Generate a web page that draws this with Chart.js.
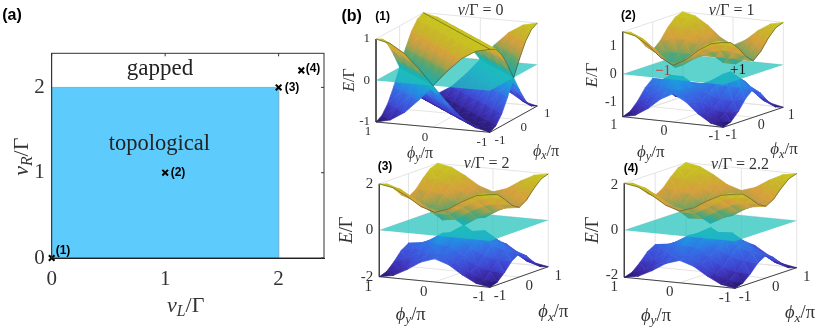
<!DOCTYPE html>
<html>
<head>
<meta charset="utf-8">
<title>Phase diagram and band surfaces</title>
<script src="https://cdn.jsdelivr.net/npm/chart.js@4/dist/chart.umd.js"></script>
<style>
  html, body { margin: 0; padding: 0; background: #fff; width: 822px; height: 329px; overflow: hidden; }
  canvas { position: absolute; }
</style>
</head>
<body>
<canvas id="phase" width="330" height="329" style="left:0;top:0"></canvas>
<canvas id="band-1" width="250" height="175" style="left:330px;top:0"></canvas>
<canvas id="band-2" width="242" height="175" style="left:580px;top:0"></canvas>
<canvas id="band-3" width="250" height="174" style="left:330px;top:155px"></canvas>
<canvas id="band-4" width="242" height="174" style="left:580px;top:155px"></canvas>
<script>
// Phase diagram (a)
const axisTicks = [0, 1, 2];
const topoX = [0, 0, 2, 2];
const topoY = [0, 2, 2, 0];
const markerX = [0, 1, 2, 2.2];
const markerY = [0, 1, 2, 2.2];
const markerNames = ['(1)', '(2)', '(3)', '(4)'];

// Band surfaces (b): upper band E/Gamma, rows phi_y = -1..1, columns phi_x = -1..1
const phiSamples = [-1, -0.75, -0.5, -0.25, 0, 0.25, 0.5, 0.75, 1];
const phiTicks = [-1, 0, 1];
const energy1 = [
  [1, .92, .71, .38, 0, .38, .71, .92, 1],
  [.92, 1, .92, .71, .38, 0, .38, .71, .92],
  [.71, .92, 1, .92, .71, .38, 0, .38, .71],
  [.38, .71, .92, 1, .92, .71, .38, 0, .38],
  [0, .38, .71, .92, 1, .92, .71, .38, 0],
  [.38, 0, .38, .71, .92, 1, .92, .71, .38],
  [.71, .38, 0, .38, .71, .92, 1, .92, .71],
  [.92, .71, .38, 0, .38, .71, .92, 1, .92],
  [1, .92, .71, .38, 0, .38, .71, .92, 1]
];
const energy2 = [
  [1.5, 1.4, 1.12, .74, .5, .74, 1.12, 1.4, 1.5],
  [1.4, 1.4, 1.21, .87, .5, .5, .87, 1.21, 1.4],
  [1.12, 1.21, 1.12, .87, .5, .21, .5, .87, 1.12],
  [.74, .87, .87, .74, .5, .21, .21, .5, .74],
  [.5, .5, .5, .5, .5, .5, .5, .5, .5],
  [.74, .5, .21, .21, .5, .74, .87, .87, .74],
  [1.12, .87, .5, .21, .5, .87, 1.12, 1.21, 1.12],
  [1.4, 1.21, .87, .5, .5, .87, 1.21, 1.4, 1.4],
  [1.5, 1.4, 1.12, .74, .5, .74, 1.12, 1.4, 1.5]
];
const energy3 = [
  [2, 1.89, 1.58, 1.2, 1, 1.2, 1.58, 1.89, 2],
  [1.89, 1.85, 1.6, 1.22, .92, 1, 1.36, 1.71, 1.89],
  [1.58, 1.6, 1.41, 1.07, .71, .66, 1, 1.36, 1.58],
  [1.2, 1.22, 1.07, .77, .38, .29, .66, 1, 1.2],
  [1, .92, .71, .38, 0, .38, .71, .92, 1],
  [1.2, 1, .66, .29, .38, .77, 1.07, 1.22, 1.2],
  [1.58, 1.36, 1, .66, .71, 1.07, 1.41, 1.6, 1.58],
  [1.89, 1.71, 1.36, 1, .92, 1.22, 1.6, 1.85, 1.89],
  [2, 1.89, 1.58, 1.2, 1, 1.2, 1.58, 1.89, 2]
];
const energy4 = [
  [2.1, 1.99, 1.68, 1.3, 1.1, 1.3, 1.68, 1.99, 2.1],
  [1.99, 1.94, 1.69, 1.31, 1.02, 1.1, 1.46, 1.81, 1.99],
  [1.68, 1.69, 1.49, 1.13, .78, .76, 1.1, 1.46, 1.68],
  [1.3, 1.31, 1.13, .81, .43, .39, .76, 1.1, 1.3],
  [1.1, 1.02, .78, .43, .1, .43, .78, 1.02, 1.1],
  [1.3, 1.1, .76, .39, .43, .81, 1.13, 1.31, 1.3],
  [1.68, 1.46, 1.1, .76, .78, 1.13, 1.49, 1.69, 1.68],
  [1.99, 1.81, 1.46, 1.1, 1.02, 1.31, 1.69, 1.94, 1.99],
  [2.1, 1.99, 1.68, 1.3, 1.1, 1.3, 1.68, 1.99, 2.1]
];

const SERIF = '"Liberation Serif", serif';
const SANS = '"Liberation Sans", sans-serif';

// Height colours, roughly parula with the orange band the lighting gives
const colorStops = [
  [-1, [40, 25, 115]], [-0.88, [58, 40, 165]], [-0.7, [62, 70, 210]], [-0.45, [55, 105, 228]],
  [-0.2, [30, 150, 225]], [0, [20, 180, 185]], [0.15, [50, 168, 150]], [0.3, [95, 165, 105]],
  [0.45, [165, 160, 75]], [0.6, [215, 158, 60]], [0.8, [200, 178, 42]], [1, [200, 198, 30]]
];

function heightColor(t) {
  t = Math.max(-1, Math.min(1, t));
  for (let k = 1; k < colorStops.length; k++) {
    if (t <= colorStops[k][0]) {
      const [t0, c0] = colorStops[k - 1];
      const [t1, c1] = colorStops[k];
      const f = (t - t0) / (t1 - t0);
      return 'rgb(' + c0.map((v, n) => Math.round(v + (c1[n] - v) * f)).join(',') + ')';
    }
  }
  return 'rgb(200,198,30)';
}

// Writes a row of [text, style] runs, centred on x,y. style: i italic, r roman, s subscript
function mathText(ctx, runs, x, y, size, angle, color) {
  ctx.save();
  ctx.translate(x, y);
  ctx.rotate(angle || 0);
  ctx.fillStyle = color || '#333';
  ctx.textBaseline = 'middle';
  ctx.textAlign = 'left';
  const fontOf = (style) => style === 'i' ? 'italic ' + size + 'px ' + SERIF
    : style === 's' ? 'italic ' + (size * 0.72) + 'px ' + SERIF
    : size + 'px ' + SERIF;
  let width = 0;
  runs.forEach(([text, style]) => { ctx.font = fontOf(style); width += ctx.measureText(text).width; });
  let left = -width / 2;
  runs.forEach(([text, style]) => {
    ctx.font = fontOf(style);
    ctx.fillText(text, left, style === 's' ? size * 0.26 : 0);
    left += ctx.measureText(text).width;
  });
  ctx.restore();
}

function plainText(ctx, text, x, y, font, color, align) {
  ctx.save();
  ctx.font = font;
  ctx.fillStyle = color || '#000';
  ctx.textAlign = align || 'center';
  ctx.textBaseline = 'middle';
  ctx.fillText(text, x, y);
  ctx.restore();
}

// First chart, the phase diagram
const phaseLabels = {
  id: 'phaseLabels',
  afterDraw(chart) {
    const {ctx, chartArea: a, scales} = chart;
    ctx.save();
    ctx.strokeStyle = '#333';
    ctx.lineWidth = 1;
    ctx.strokeRect(a.left, a.top, a.right - a.left, a.bottom - a.top);
    ctx.beginPath();
    axisTicks.forEach((t) => {
      const px = scales.x.getPixelForValue(t);
      const py = scales.y.getPixelForValue(t);
      ctx.moveTo(px, a.top); ctx.lineTo(px, a.top + 3);
      ctx.moveTo(a.right, py); ctx.lineTo(a.right - 3, py);
    });
    ctx.stroke();
    ctx.restore();
    const nameSpots = [[63, 250.7], [178, 173], [292, 88], [313, 69]];
    markerNames.forEach((name, i) => {
      plainText(ctx, name, nameSpots[i][0], nameSpots[i][1], 'bold 12px ' + SANS);
    });
    plainText(ctx, '(a)', 12, 16, 'bold 16px ' + SANS);
    plainText(ctx, 'gapped', 160, 69, '23px ' + SERIF, '#222');
    plainText(ctx, 'topological', 159.3, 144, '22.5px ' + SERIF, '#222');
    mathText(ctx, [['v', 'i'], ['L', 's'], ['/Γ', 'r']], 185.7, 306, 22);
    mathText(ctx, [['v', 'i'], ['R', 's'], ['/Γ', 'r']], 22, 156.7, 22, -Math.PI / 2);
  }
};

new Chart(document.getElementById('phase'), {
  type: 'scatter',
  data: {
    datasets: [{
      data: topoX.map((x, i) => ({x: x, y: topoY[i]})),
      showLine: true,
      fill: 'shape',
      backgroundColor: '#5ecbfd',
      borderColor: '#6db9dc',
      borderWidth: 1,
      pointRadius: 0,
      order: 2
    }, {
      data: markerX.map((x, i) => ({x: x, y: markerY[i]})),
      pointStyle: 'crossRot',
      pointRadius: 4,
      borderColor: '#000',
      borderWidth: 2,
      clip: false,
      order: 1
    }]
  },
  options: {
    responsive: false,
    animation: false,
    layout: { padding: { left: 21.7, top: 53.3, right: 5.7, bottom: 31 } },
    plugins: { legend: { display: false }, tooltip: { enabled: false } },
    scales: {
      x: {
        type: 'linear', min: 0, max: 2.4,
        afterFit: (s) => { s.height = 40; },
        grid: { display: false, drawTicks: false },
        border: { color: '#111', width: 1 },
        ticks: { stepSize: 1, includeBounds: false, padding: 9, color: '#333', maxRotation: 0, font: { family: SERIF, size: 21 } }
      },
      y: {
        type: 'linear', min: 0, max: 2.4,
        afterFit: (s) => { s.width = 30; },
        grid: { display: false, drawTicks: false },
        border: { color: '#333', width: 1 },
        ticks: { stepSize: 1, includeBounds: false, padding: 7, color: '#333', font: { family: SERIF, size: 21 } }
      }
    }
  },
  plugins: [phaseLabels]
});

function bandChart(p) {
  const project = (phiX, phiY, e) => {
    const u = (phiX + 1) / 2;
    const w = (phiY + 1) / 2;
    return {
      x: p.front[0] + u * (p.right[0] - p.front[0]) + w * (p.left[0] - p.front[0]),
      y: p.front[1] + u * (p.right[1] - p.front[1]) + w * (p.left[1] - p.front[1]) - (e + p.zMax) * p.zUnit
    };
  };
  const line = (points, color, width) => ({
    data: points, showLine: true, fill: false, borderColor: color, borderWidth: width, pointRadius: 0, clip: false
  });
  const faint = '#e4e4e4';
  const axisDark = '#444';
  const datasets = [];

  // back walls and floor grid
  [-p.zMax, 0, p.zMax].forEach((e) => {
    datasets.push(line([project(-1, 1, e), project(1, 1, e), project(1, -1, e)], faint, 1));
  });
  phiTicks.forEach((t) => {
    datasets.push(line([project(t, -1, -p.zMax), project(t, 1, -p.zMax), project(t, 1, p.zMax)], faint, 1));
    datasets.push(line([project(-1, t, -p.zMax), project(1, t, -p.zMax), project(1, t, p.zMax)], faint, 1));
  });
  // the three axes
  datasets.push(line([project(-1, 1, p.zMax), project(-1, 1, -p.zMax), project(-1, -1, -p.zMax), project(1, -1, -p.zMax)], axisDark, 1));

  // one triangle of a grid cell, coloured from its lowest corner to its highest
  const facet = (grid, sign, cells) => {
    const corners = cells.map(([a, b]) => ({
      e: sign * grid[b][a],
      point: project(phiSamples[a], phiSamples[b], sign * grid[b][a])
    }));
    const sorted = corners.slice().sort((m, n) => m.e - n.e);
    const low = sorted[0];
    const high = sorted[sorted.length - 1];
    let shadeFill = null;
    // canvas units equal scale units here, only the box offset differs
    const shade = (context) => {
      if (high.e - low.e < 0.001) return heightColor(low.e / p.zMax);
      if (shadeFill) return shadeFill;
      const g = context.chart.ctx.createLinearGradient(
        low.point.x - p.box.x, low.point.y - p.box.y,
        high.point.x - p.box.x, high.point.y - p.box.y);
      for (let n = 0; n <= 4; n++) {
        g.addColorStop(n / 4, heightColor((low.e + (high.e - low.e) * n / 4) / p.zMax));
      }
      shadeFill = g;
      return g;
    };
    const pts = corners.map((c) => c.point);
    return {
      data: pts.concat([pts[0]]),
      showLine: true,
      fill: 'shape',
      backgroundColor: shade,
      borderColor: shade,
      borderWidth: 0.7,
      pointRadius: 0,
      clip: false
    };
  };
  const surface = (sign) => {
    for (let j = 7; j >= 0; j--) {
      for (let i = 7; i >= 0; i--) {
        datasets.push(facet(p.energy, sign, [[i + 1, j], [i + 1, j + 1], [i, j]]));
        datasets.push(facet(p.energy, sign, [[i, j + 1], [i + 1, j + 1], [i, j]]));
      }
    }
  };

  // painter's order, back corner first. lower band, then plane, then upper band
  surface(-1);
  const plane = [project(-1, 1, 0), project(-1, -1, 0), project(1, -1, 0), project(1, 1, 0)];
  datasets.push({
    data: plane.concat([plane[0]]),
    showLine: true,
    fill: 'shape',
    backgroundColor: 'rgba(32,192,186,0.72)',
    borderColor: 'rgba(32,192,186,0)',
    borderWidth: 0,
    pointRadius: 0,
    clip: false
  });
  surface(1);

  // dark front rim of the upper band
  datasets.push(line(phiSamples.map((t, n) => project(-1, t, p.energy[n][0])), 'rgba(50,50,40,0.6)', 0.8));
  datasets.push(line(phiSamples.map((t, n) => project(t, -1, p.energy[0][n])), 'rgba(50,50,40,0.6)', 0.8));
  if (p.ridge) {
    datasets.push(line(phiSamples.map((t, n) => project(t, t, p.energy[n][n])), 'rgba(50,50,40,0.6)', 0.8));
  }

  const labels = {
    id: 'bandLabels',
    afterDraw(chart) {
      const {ctx, scales} = chart;
      const px = (pt) => [scales.x.getPixelForValue(pt.x), scales.y.getPixelForValue(pt.y)];
      const fontTick = p.tickSize + 'px ' + SERIF;
      p.zTicks.forEach((t) => {
        const [x, y] = px(project(-1, 1, t));
        plainText(ctx, String(t), x - 6, y, fontTick, '#333', 'right');
      });
      phiTicks.forEach((t) => {
        const [ax, ay] = px(project(-1, t, -p.zMax));
        plainText(ctx, String(t), ax + p.yOff[0], ay + p.yOff[1], fontTick, '#333');
        const [bx, by] = px(project(t, -1, -p.zMax));
        plainText(ctx, String(t), bx + p.xOff[0], by + p.xOff[1], fontTick, '#333');
      });
      const X = (v) => v - p.box.x;
      const Y = (v) => v - p.box.y;
      plainText(ctx, p.name, X(p.nameAt[0]), Y(p.nameAt[1]), 'bold 12px ' + SANS);
      mathText(ctx, [['v', 'i'], ['/Γ = ' + p.v, 'r']], X(p.titleAt[0]), Y(p.titleAt[1]), p.titleSize);
      mathText(ctx, [['E', 'i'], ['/Γ', 'r']], X(p.eAt[0]), Y(p.eAt[1]), p.labelSize, -Math.PI / 2);
      mathText(ctx, [['ϕ', 'i'], ['y', 's'], ['/π', 'r']], X(p.phiYAt[0]), Y(p.phiYAt[1]), p.labelSize);
      mathText(ctx, [['ϕ', 'i'], ['x', 's'], ['/π', 'r']], X(p.phiXAt[0]), Y(p.phiXAt[1]), p.labelSize);
      if (p.after) p.after(ctx, X, Y);
    }
  };

  // Chart.js draws the last dataset first, so the list goes in reversed
  return new Chart(document.getElementById(p.canvas), {
    type: 'scatter',
    data: { datasets: datasets.reverse() },
    options: {
      responsive: false,
      animation: false,
      layout: { padding: 0 },
      plugins: { legend: { display: false }, tooltip: { enabled: false } },
      scales: {
        x: { type: 'linear', display: false, min: p.box.x, max: p.box.x + p.box.w },
        y: { type: 'linear', display: false, reverse: true, min: p.box.y, max: p.box.y + p.box.h }
      }
    },
    plugins: [labels]
  });
}

bandChart({
  canvas: 'band-1', energy: energy1, v: '0', name: '(1)', ridge: true,
  box: {x: 330, y: 0, w: 250, h: 175},
  left: [376, 122], front: [490, 132.3], right: [537.3, 106],
  zMax: 1, zUnit: 41.5, zTicks: [-1, 0, 1],
  tickSize: 13, titleSize: 16, labelSize: 16,
  yOff: [-8, 10], xOff: [10, 8],
  nameAt: [382.7, 17], titleAt: [480.7, 11], eAt: [350, 80], phiYAt: [420, 154], phiXAt: [546, 152],
  after(ctx, X, Y) { plainText(ctx, '(b)', X(351.7), Y(17), 'bold 16px ' + SANS); }
});

bandChart({
  canvas: 'band-2', energy: energy2, v: '1', name: '(2)',
  box: {x: 580, y: 0, w: 242, h: 175},
  left: [622.7, 116.7], front: [723.3, 127.3], right: [783.3, 107.3],
  zMax: 1.5, zUnit: 28.3, zTicks: [-1, 0, 1],
  tickSize: 14, titleSize: 16, labelSize: 17,
  yOff: [-9, 9], xOff: [8, 8],
  nameAt: [628.3, 16], titleAt: [731.7, 11], eAt: [592.7, 75], phiYAt: [650.7, 152.7], phiXAt: [784, 150],
  after(ctx, X, Y) {
    plainText(ctx, '−1', X(663), Y(71), '15px ' + SERIF, '#d62728');
    plainText(ctx, '+1', X(738), Y(70), '15px ' + SERIF, '#111');
  }
});

bandChart({
  canvas: 'band-3', energy: energy3, v: '2', name: '(3)',
  box: {x: 330, y: 155, w: 250, h: 174},
  left: [379.3, 276.7], front: [490, 287.3], right: [548.3, 266.7],
  zMax: 2, zUnit: 23.2, zTicks: [-2, 0, 2],
  tickSize: 15, titleSize: 16, labelSize: 18.5,
  yOff: [-11, 10], xOff: [10, 9],
  nameAt: [385, 166.7], titleAt: [486.7, 163.3], eAt: [347.3, 230], phiYAt: [410.7, 315], phiXAt: [553.3, 312.3]
});

bandChart({
  canvas: 'band-4', energy: energy4, v: '2.2', name: '(4)',
  box: {x: 580, y: 155, w: 242, h: 174},
  left: [624.3, 277.3], front: [735, 288.3], right: [796.7, 267.7],
  zMax: 2.1, zUnit: 22.4, zTicks: [-2, 0, 2],
  tickSize: 15, titleSize: 16, labelSize: 18.5,
  yOff: [-10, 9.5], xOff: [10, 9],
  nameAt: [631, 169], titleAt: [740, 164.3], eAt: [592.7, 230], phiYAt: [656, 316], phiXAt: [800, 313.3]
});
</script>
</body>
</html>
